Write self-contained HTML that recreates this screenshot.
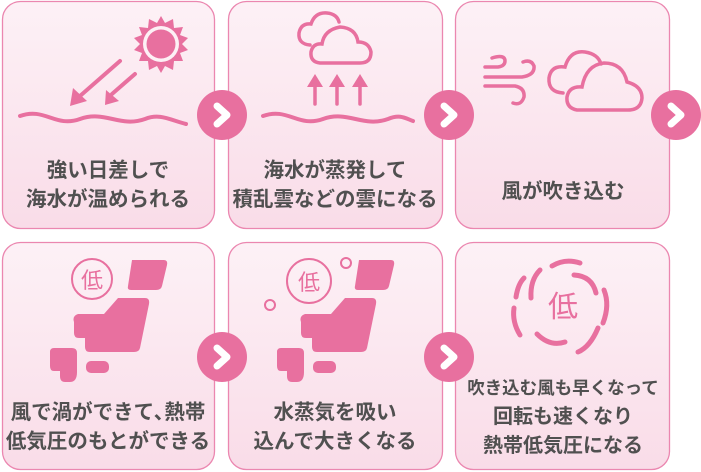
<!DOCTYPE html>
<html><head><meta charset="utf-8"><style>
html,body{margin:0;padding:0;background:#fff;width:701px;height:472px;overflow:hidden}
svg{display:block}
text{font-family:"Liberation Sans","Noto Sans CJK JP",sans-serif;font-weight:bold;fill:#505050;font-size:20.5px;text-anchor:middle}
.lo{font-weight:normal;fill:#e8709f;font-size:22px}
</style></head><body>
<svg width="701" height="472" viewBox="0 0 701 472">
<defs>
<linearGradient id="g" x1="0" y1="0" x2="0" y2="1"><stop offset="0" stop-color="#fdf1f6"/><stop offset="1" stop-color="#f9dce8"/></linearGradient>
<g id="chev"><circle r="25" fill="#e8709f"/><path d="M-5,-9 L5,0 L-5,9" fill="none" stroke="#fff" stroke-width="7" stroke-linecap="round" stroke-linejoin="round"/></g>
<g id="japan" fill="#e8709f">
<path d="M132,260 L164,260 Q168,260 167,265 L162,286 Q161,290 156,290 L131,290 Q127,290 128,286 Z"/>
<path d="M118,298 L145,298 Q150,298 149,304 L140,348 Q139,352 134,352 L90,352 Q85,352 85,347 L85,338 L79,338 Q74,338 74,333 L74,322 Q72,316 78,314 L104,314 Z"/>
<path d="M54,348 L72,348 Q77,348 77,353 L77,372 Q77,382 70,382 L65,382 Q60,382 60,376 L60,371 L54,371 Q50,371 50,366 L50,352 Q50,348 54,348 Z"/>
<rect x="86" y="361" width="23" height="12" rx="5"/>
</g>
</defs>
<g fill="url(#g)" stroke="#eb87b0" stroke-width="1.3">
<rect x="2.5" y="1.5" width="212" height="227" rx="18"/>
<rect x="228.5" y="1.5" width="214" height="227" rx="18"/>
<rect x="455.5" y="1.5" width="214" height="227" rx="18"/>
<rect x="2.5" y="242.5" width="212" height="227" rx="18"/>
<rect x="228.5" y="242.5" width="214" height="227" rx="18"/>
<rect x="455.5" y="242.5" width="214" height="227" rx="18"/>
</g>
<!-- box1 icon -->
<g fill="#e8709f">
<polygon points="161,16 165,23 173,19 174,28 183,27 180,35 188,38 182,44 188,50 180,53 183,61 174,61 173,70 165,66 161,73 157,66 149,70 148,61 139,61 142,53 134,50 140,44 134,38 142,35 139,27 148,28 149,19 157,23"/>
<circle cx="161" cy="44" r="18" fill="#fdf0f5"/>
<circle cx="161" cy="44" r="14.5"/>
</g>
<g stroke="#e8709f" stroke-width="4" fill="none" stroke-linecap="round">
<line x1="120" y1="61" x2="80" y2="96"/><line x1="135" y1="74" x2="112" y2="94"/>
<path d="M20,116 C45,107 55,128 80,119 C105,110 120,128 145,119 C160,113 170,120 186,124"/>
<path d="M263,116 C288,107 298,128 323,119 C348,110 363,128 388,119 C400,114 405,118 413,121"/>
</g>
<g fill="#e8709f"><polygon points="70,106 73,88 87,101"/><polygon points="105,105 106,90 119,101"/></g>
<!-- box2 cloud + arrows -->
<g stroke="#e8709f" stroke-width="3.5" fill="none" stroke-linecap="round">
<path d="M310,45 Q298,44 299,33 Q301,23 311,24 Q315,12 327,13 Q337,14 339,22"/>
<path d="M320,63 Q310,62 311,52 Q313,43 322,44 Q324,30 340,27 Q356,28 358,42 Q369,42 371,52 Q371,63 360,63 Z"/>
<line x1="315" y1="104" x2="315" y2="84"/><line x1="337" y1="104" x2="337" y2="84"/><line x1="360" y1="104" x2="360" y2="84"/>
</g>
<g fill="#e8709f"><polygon points="307,87 315,74 323,87"/><polygon points="329,87 337,74 345,87"/><polygon points="352,87 360,74 368,87"/></g>
<!-- box3 wind+cloud -->
<g stroke="#e8709f" stroke-width="3.5" fill="none" stroke-linecap="round">
<path d="M492,58 Q505,54 505,61 Q505,66 498,67 L485,67 M485,77 L522,77 Q535,75 534,66 Q531,59 523,62 M485,86 L515,86 Q525,88 524,97 Q521,106 513,103"/>
<path d="M563,93 Q548,92 549,78 Q551,65 565,67 Q570,50 585,52 Q598,54 601,64"/>
<path d="M577,110 Q566,108 567,97 Q569,86 582,87 Q586,65 604,63 Q623,63 627,82 Q642,86 642,98 Q641,110 628,110 Z"/>
</g>
<!-- chevrons -->
<use href="#chev" x="222" y="115"/><use href="#chev" x="449" y="115"/><use href="#chev" x="676" y="115"/>
<use href="#chev" x="222" y="357"/><use href="#chev" x="449" y="357"/>
<!-- box4/5 -->
<use href="#japan"/>
<use href="#japan" x="227"/>
<circle cx="92" cy="279" r="20" fill="none" stroke="#e8709f" stroke-width="2"/>
<text x="92" y="288" class="lo">低</text>
<circle cx="309" cy="281" r="22" fill="none" stroke="#e8709f" stroke-width="2"/>
<text x="309" y="290" class="lo">低</text>
<circle cx="346" cy="263" r="5" fill="none" stroke="#e8709f" stroke-width="2"/>
<circle cx="270" cy="305" r="5" fill="none" stroke="#e8709f" stroke-width="2"/>
<!-- box6 swirl -->
<g stroke="#e8709f" stroke-width="5" fill="none" stroke-linecap="round">
<path d="M540,270 Q530,280 531,298"/>
<path d="M552,266 Q565,258 580,263"/>
<path d="M574,275 Q592,276 596,293"/>
<path d="M604,290 Q610,305 603,323"/>
<path d="M598,328 Q590,347 578,352"/>
<path d="M565,342 Q550,347 537,334"/>
<path d="M520,335 Q512,322 514,308"/>
<path d="M516,297 Q518,284 524,278"/>
</g>
<text x="563" y="317" class="lo" style="font-size:30px">低</text>
<!-- texts -->
<text x="108" y="177">強い日差しで</text>
<text x="108" y="206">海水が温められる</text>
<text x="335" y="177">海水が蒸発して</text>
<text x="335" y="206">積乱雲などの雲になる</text>
<text x="563" y="198">風が吹き込む</text>
<text x="108" y="419">風で渦ができて､熱帯</text>
<text x="108" y="448">低気圧のもとができる</text>
<text x="335" y="419">水蒸気を吸い</text>
<text x="335" y="448">込んで大きくなる</text>
<text x="563" y="394" style="font-size:17.5px">吹き込む風も早くなって</text>
<text x="563" y="423" style="font-size:20px">回転も速くなり</text>
<text x="563" y="452" style="font-size:20px">熱帯低気圧になる</text>
</svg>
</body></html>
